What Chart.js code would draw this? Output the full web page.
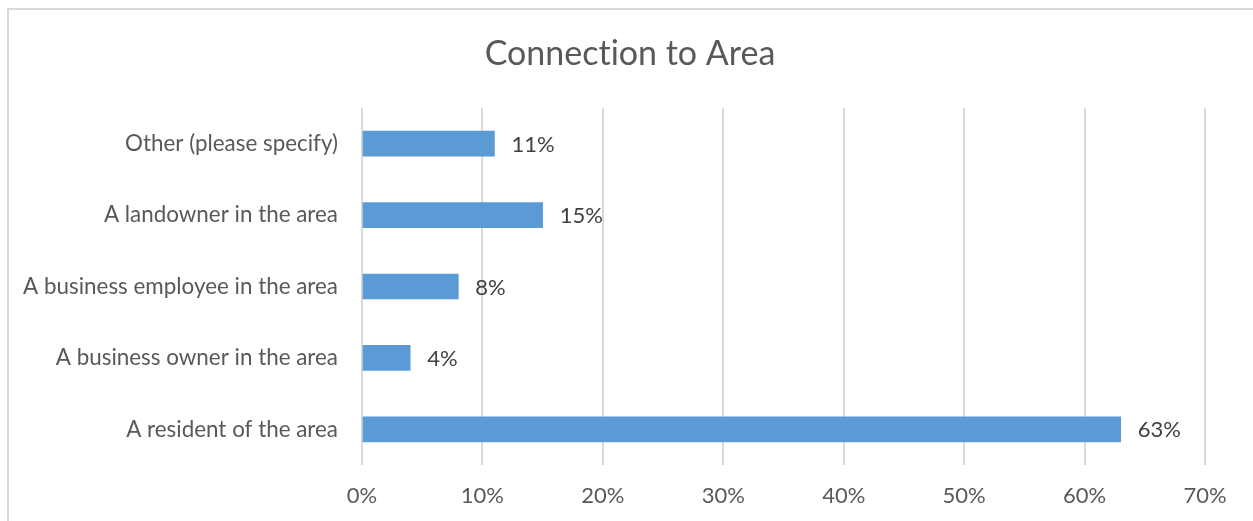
<!DOCTYPE html>
<html>
<head>
<meta charset="utf-8">
<script src="https://cdn.jsdelivr.net/npm/chart.js@4"></script>
<style>
  html, body { margin: 0; padding: 0; background: #ffffff; }
  #wrap { position: relative; width: 1253px; height: 521px; overflow: hidden; }
  canvas { display: block; }
</style>
</head>
<body>
<div id="wrap"><canvas id="c" width="1253" height="521"></canvas></div>
<script>
// ZWNJ between "t" and "i" only prevents the font's "ti" ligature; text is unchanged.
const chartTitle = "Connect\u200Cion to Area";
const categories = [
  "Other (please specify)",
  "A landowner in the area",
  "A business employee in the area",
  "A business owner in the area",
  "A resident of the area"
];
const values = [11, 15, 8, 4, 63];
const xTickMax = 70;
const xTickStep = 10;

const FONT = "Lato, 'Open Sans', sans-serif";

const framePlugin = {
  id: 'frame',
  beforeDraw(chart) {
    const ctx = chart.ctx;
    ctx.save();
    ctx.strokeStyle = '#d9d9d9';
    ctx.lineWidth = 2;
    ctx.beginPath();
    ctx.moveTo(8, 530);
    ctx.lineTo(8, 9);
    ctx.lineTo(1260, 9);
    ctx.stroke();
    // chart title, centred on the whole chart frame
    ctx.fillStyle = '#595959';
    ctx.font = "34px " + FONT;
    ctx.textAlign = 'center';
    ctx.textBaseline = 'middle';
    ctx.fillText(chartTitle, 630, 54);
    ctx.restore();
  }
};

const labelPlugin = {
  id: 'valueLabels',
  afterDatasetsDraw(chart) {
    const ctx = chart.ctx;
    const meta = chart.getDatasetMeta(0);
    ctx.save();
    ctx.fillStyle = '#404040';
    ctx.font = "22px " + FONT;
    ctx.textAlign = 'left';
    ctx.textBaseline = 'middle';
    meta.data.forEach((bar, i) => {
      ctx.fillText(values[i] + '%', bar.x + 17, bar.y + 1);
    });
    ctx.restore();
  }
};

new Chart(document.getElementById('c'), {
  type: 'bar',
  data: {
    labels: categories,
    datasets: [{
      data: values,
      backgroundColor: '#5b9bd5',
      borderWidth: 0,
      barThickness: 25
    }]
  },
  options: {
    indexAxis: 'y',
    responsive: false,
    animation: false,
    devicePixelRatio: 1,
    layout: { padding: { left: 0, right: 48, top: 108, bottom: 0 } },
    plugins: {
      legend: { display: false },
      tooltip: { enabled: false },
      title: { display: false }
    },
    scales: {
      x: {
        min: 0,
        max: xTickMax,
        ticks: {
          stepSize: xTickStep,
          color: '#595959',
          font: { family: FONT, size: 22 },
          padding: 18,
          maxRotation: 0,
          callback: v => v + '%'
        },
        grid: { color: '#d9d9d9', lineWidth: 2, drawTicks: false },
        border: { display: false },
        afterFit(scale) { scale.height = 56; }
      },
      y: {
        ticks: {
          color: '#595959',
          font: { family: FONT, size: 22.4 },
          padding: 24
        },
        grid: { display: false, drawTicks: false },
        border: { display: false },
        afterFit(scale) { scale.width = 362; }
      }
    }
  },
  plugins: [framePlugin, labelPlugin]
});
</script>
</body>
</html>
